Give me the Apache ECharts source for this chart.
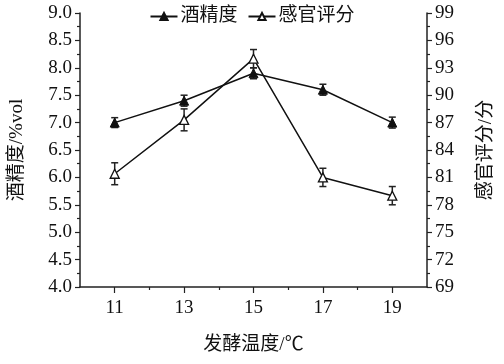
<!DOCTYPE html>
<html>
<head>
<meta charset="utf-8">
<script src="https://cdn.jsdelivr.net/npm/echarts@6/dist/echarts.min.js"></script>
<style>html,body{margin:0;padding:0;background:#fff;}#c{width:504px;height:364px;}</style>
</head>
<body>
<div id="c"></div>
<script>
const temps = [11, 13, 15, 17, 19];
const xTickLabels = [11, 13, 15, 17, 19];
const xMinorTicks = [12, 14, 16, 18];
const alcohol = [7.0, 7.4, 7.9, 7.6, 7.0];
const alcoholErr = [0.09, 0.1, 0.1, 0.1, 0.1];
const sensory = [81.4, 87.3, 94.0, 81.0, 79.0];
const sensoryErr = [1.2, 1.2, 1.0, 1.0, 1.0];
const seriesNames = ['酒精度', '感官评分'];

const FONT = '"Liberation Serif", "Noto Sans CJK SC", serif';
const FS = 19;
const AX = '#222';

function errData(vals, errs) {
  return temps.map((t, i) => [t, vals[i] - errs[i], vals[i] + errs[i]]);
}
function renderErr(params, api) {
  const x = api.value(0);
  const lo = api.coord([x, api.value(1)]);
  const hi = api.coord([x, api.value(2)]);
  const w = 3.5;
  const st = { stroke: '#222', lineWidth: 1.5 };
  return {
    type: 'group',
    children: [
      { type: 'line', shape: { x1: lo[0], y1: lo[1], x2: hi[0], y2: hi[1] }, style: st },
      { type: 'line', shape: { x1: lo[0] - w, y1: lo[1], x2: lo[0] + w, y2: lo[1] }, style: st },
      { type: 'line', shape: { x1: hi[0] - w, y1: hi[1], x2: hi[0] + w, y2: hi[1] }, style: st }
    ]
  };
}

const chart = echarts.init(document.getElementById('c'), null, { renderer: 'canvas' });
chart.setOption({
  animation: false,
  backgroundColor: '#fff',
  textStyle: { fontFamily: FONT },
  grid: { left: 76, right: 71, top: 13, bottom: 77 },
  legend: {
    top: 2,
    left: 'center',
    itemWidth: 27,
    itemHeight: 9,
    itemGap: 10,
    data: seriesNames,
    textStyle: { fontFamily: FONT, fontSize: FS, color: '#111', padding: [0, 0, 0, -2] }
  },
  xAxis: [{
    type: 'value', min: 10, max: 20,
    name: '发酵温度/℃', nameLocation: 'middle', nameGap: 49,
    nameTextStyle: { fontFamily: FONT, fontSize: FS, color: '#111' },
    axisLine: { show: true, lineStyle: { color: AX, width: 1.5 } },
    axisTick: { show: true, length: 6, customValues: xTickLabels, lineStyle: { color: AX, width: 1.2 } },
    axisLabel: { customValues: xTickLabels, fontFamily: FONT, fontSize: FS, color: '#111', margin: 12 },
    splitLine: { show: false }
  }, {
    type: 'value', min: 10, max: 20, position: 'bottom',
    axisLine: { show: false },
    axisTick: { show: true, length: 3, customValues: xMinorTicks, lineStyle: { color: AX, width: 1.2 } },
    axisLabel: { show: false },
    splitLine: { show: false }
  }],
  yAxis: [{
    type: 'value', min: 4, max: 9, interval: 0.5, position: 'left',
    name: '酒精度/%vol', nameLocation: 'middle', nameGap: 53,
    nameTextStyle: { fontFamily: FONT, fontSize: FS, color: '#111' },
    axisLine: { show: true, lineStyle: { color: AX, width: 1.5 } },
    axisTick: { show: true, length: 5, lineStyle: { color: AX, width: 1.2 } },
    minorTick: { show: true, splitNumber: 2, length: 3, lineStyle: { color: AX, width: 1.2 } },
    axisLabel: { fontFamily: FONT, fontSize: FS, color: '#111', margin: 8, formatter: v => v.toFixed(1) },
    splitLine: { show: false }
  }, {
    type: 'value', min: 69, max: 99, interval: 3, position: 'right',
    name: '感官评分/分', nameLocation: 'middle', nameGap: 50,
    nameTextStyle: { fontFamily: FONT, fontSize: FS, color: '#111' },
    axisLine: { show: true, lineStyle: { color: AX, width: 1.5 } },
    axisTick: { show: true, length: 5, lineStyle: { color: AX, width: 1.2 } },
    minorTick: { show: true, splitNumber: 2, length: 3, lineStyle: { color: AX, width: 1.2 } },
    axisLabel: { fontFamily: FONT, fontSize: FS, color: '#111', margin: 8 },
    splitLine: { show: false }
  }],
  series: [{
    type: 'custom', xAxisIndex: 0, yAxisIndex: 0, z: 1, silent: true,
    renderItem: renderErr, data: errData(alcohol, alcoholErr)
  }, {
    type: 'custom', xAxisIndex: 0, yAxisIndex: 1, z: 1, silent: true,
    renderItem: renderErr, data: errData(sensory, sensoryErr)
  }, {
    name: seriesNames[0], type: 'line', xAxisIndex: 0, yAxisIndex: 0, z: 3,
    data: temps.map((t, i) => [t, alcohol[i]]),
    symbol: 'triangle', symbolSize: 9, showAllSymbol: true,
    lineStyle: { color: '#111', width: 1.5 },
    itemStyle: { color: '#111', borderColor: '#111', borderWidth: 1 }
  }, {
    name: seriesNames[1], type: 'line', xAxisIndex: 0, yAxisIndex: 1, z: 3,
    data: temps.map((t, i) => [t, sensory[i]]),
    symbol: 'triangle', symbolSize: 9, showAllSymbol: true,
    lineStyle: { color: '#111', width: 1.5 },
    itemStyle: { color: '#fff', borderColor: '#111', borderWidth: 1.3 }
  }]
});
</script>
</body>
</html>
